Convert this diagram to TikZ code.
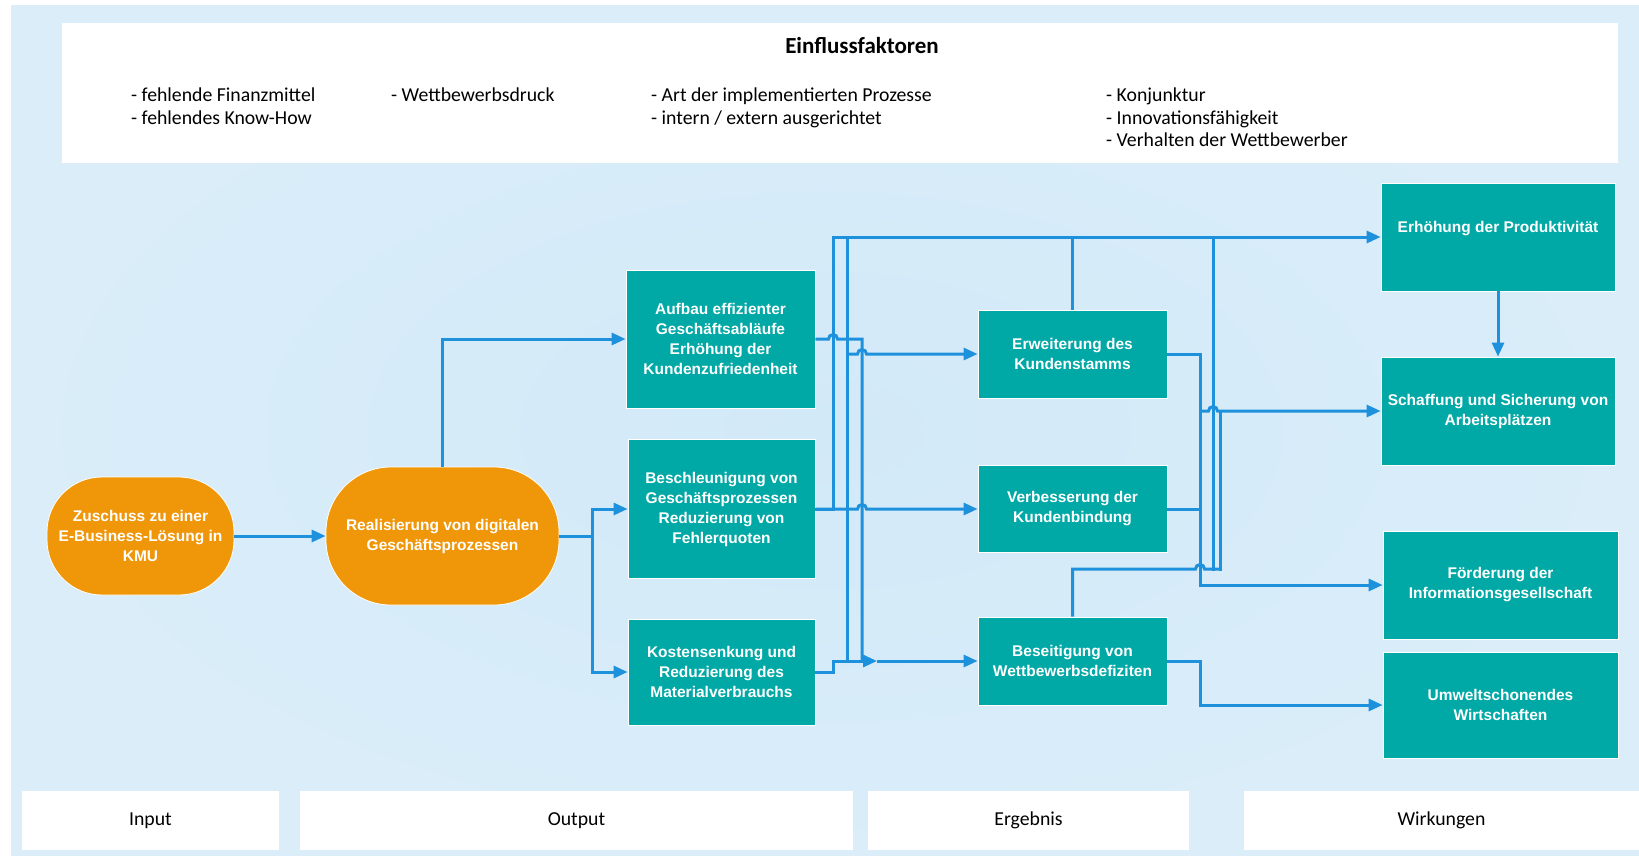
\documentclass[tikz,border=0pt]{standalone}
\usepackage{fontspec}
\setmainfont{Carlito}
\newfontfamily\boxfont{Liberation Sans}
\usetikzlibrary{arrows.meta}
\definecolor{bgblue}{RGB}{218,237,249}
\definecolor{bgblueinner}{RGB}{210,233,248}
\definecolor{boxteal}{RGB}{0,168,166}
\definecolor{inputorange}{RGB}{239,150,9}
\definecolor{linkblue}{RGB}{30,145,220}

\begin{document}
\begin{tikzpicture}[x=1pt,y=-1pt,>={Triangle[length=14pt,width=12pt]},
  link/.style={draw=linkblue,line width=3pt},
  tealbox/.style={rectangle,fill=boxteal,draw=white,line width=0.8pt,text=white,align=center,
    inner sep=0pt,font={\boxfont\fontsize{15.5}{20}\selectfont\bfseries}},
  stadium/.style={rectangle,rounded corners=#1,fill=inputorange,draw=white,line width=0.8pt,
    text=white,align=center,inner sep=0pt,font={\boxfont\fontsize{15.5}{20}\selectfont\bfseries}},
  panel/.style={rectangle,fill=white,inner sep=0pt,font={\fontsize{19.75}{22.5}\selectfont}},
  factor/.style={anchor=north west,align=left,inner sep=0pt,font={\fontsize{19.75}{22.5}\selectfont}}]

  \useasboundingbox (0,0) rectangle (1639,855);
  \shade[inner color=bgblueinner,outer color=bgblue] (11,5) rectangle (1639,855);

% define the panels
  \node[panel,minimum width=1556pt,minimum height=140pt] (factors) at (840,93) {};
  \node[font={\fontsize{23}{26}\selectfont\bfseries}] (title) at (862,46) {Einflussfaktoren};
  \node[factor] (fk1) at (131,88) {- fehlende Finanzmittel\\- fehlendes Know-How};
  \node[factor] (fk2) at (391,88) {- Wettbewerbsdruck};
  \node[factor] (fk3) at (651,88) {- Art der implementierten Prozesse\\- intern / extern ausgerichtet};
  \node[factor] (fk4) at (1106,88) {- Konjunktur\\- Innovationsfähigkeit\\- Verhalten der Wettbewerber};

  \node[panel,minimum width=257pt,minimum height=59pt] (input) at (150.5,820.5) {Input};
  \node[panel,minimum width=553pt,minimum height=59pt] (output) at (576.5,820.5) {Output};
  \node[panel,minimum width=321pt,minimum height=59pt] (ergebnis) at (1028.5,820.5) {Ergebnis};
  \node[panel,minimum width=395pt,minimum height=59pt] (wirkungen) at (1441.5,820.5) {Wirkungen};

% define the boxes
  \node[stadium=55pt,minimum width=187pt,minimum height=118pt] (zuschuss) at (140.5,536) {Zuschuss zu einer\\E-Business-Lösung in\\KMU};
  \node[stadium=65pt,minimum width=233pt,minimum height=138pt] (real) at (442.5,536) {Realisierung von digitalen\\Geschäftsprozessen};

  \node[tealbox,minimum width=189pt,minimum height=138pt] (aufbau) at (720.5,339) {Aufbau effizienter\\Geschäftsabläufe\\Erhöhung der\\Kundenzufriedenheit};
  \node[tealbox,minimum width=187pt,minimum height=139pt] (beschl) at (721.5,509) {Beschleunigung von\\Geschäftsprozessen\\Reduzierung von\\Fehlerquoten};
  \node[tealbox,minimum width=187pt,minimum height=106pt] (kosten) at (721.5,672) {Kostensenkung und\\Reduzierung des\\Materialverbrauchs};

  \node[tealbox,minimum width=189pt,minimum height=88pt] (erweit) at (1072.5,354) {Erweiterung des\\Kundenstamms};
  \node[tealbox,minimum width=189pt,minimum height=87pt] (verbess) at (1072.5,509) {Verbesserung der\\Kundenbindung};
  \node[tealbox,minimum width=189pt,minimum height=88pt] (beseit) at (1072.5,661) {Beseitigung von\\Wettbewerbsdefiziten};

  \node[tealbox,minimum width=234pt,minimum height=108pt] (prod) at (1498,237) {Erhöhung der Produktivität\\\mbox{}};
  \node[tealbox,minimum width=234pt,minimum height=108pt] (schaff) at (1498,411) {Schaffung und Sicherung von\\Arbeitsplätzen};
  \node[tealbox,minimum width=235pt,minimum height=108pt] (foerd) at (1500.5,585) {Förderung der\\Informationsgesellschaft};
  \node[tealbox,minimum width=235pt,minimum height=106pt] (umwelt) at (1500.5,705) {Umweltschonendes\\Wirtschaften};

% bus lines
  \coordinate (kfork) at (592,0);
  \coordinate (ka) at (833,0);
  \coordinate (kb) at (847,0);
  \coordinate (kc) at (862,0);
  \coordinate (kd) at (1200,0);
  \coordinate (ke) at (1213,0);
  \coordinate (kf) at (1220,0);
  \coordinate (kjoin) at (0,569);
  \coordinate (kmid) at (877,661);

% define the links
  \draw[link,->] (zuschuss) -- (real);
  \draw[link,->] (real.north) |- (aufbau.west);
  \draw[link] (real.east) -- (kfork |- real.east);
  \draw[link,->] (kfork |- real.east) |- (beschl.west);
  \draw[link,->] (kfork |- real.east) |- (kosten.west);

  \draw[link,->] (beschl.east) -| (ka |- prod.west) -- (prod.west);
  \draw[link,->] (beschl.east) -- ([xshift=-4.5pt]kc |- beschl.east)
      arc[start angle=180,end angle=0,radius=4.5pt] -- (verbess.west);
  \draw[link,line cap=rect] (kb |- prod.west) -- (kb |- beseit.west);
  \draw[link,->] (kb |- erweit.west) -- ([xshift=-4.5pt]kc |- erweit.west)
      arc[start angle=180,end angle=0,radius=4.5pt] -- (erweit.west);
  \draw[link] (aufbau.east) -- ([xshift=-4.5pt]ka |- aufbau.east)
      arc[start angle=180,end angle=0,radius=4.5pt] -| (kc |- beseit.west);
  \draw[link,->] (kosten.east) -| (ka |- beseit.west) -- (kmid);
  \draw[link,->] (kmid) -- (beseit.west);

  \draw[link] (erweit.north) -- (erweit.north |- prod.west);
  \draw[link,line cap=rect] (ke |- prod.west) -- (ke |- kjoin);
  \draw[link,->] (erweit.east) -| (kd |- foerd.west) -- (foerd.west);
  \draw[link] (verbess.east) -- (kd |- verbess.east);
  \draw[link,->] (kd |- schaff.west) -- ([xshift=-4.5pt]ke |- schaff.west)
      arc[start angle=180,end angle=0,radius=4.5pt] -- (schaff.west);
  \draw[link,line cap=rect] (kf |- schaff.west) -- (kf |- kjoin);
  \draw[link] (beseit.north) |- ([xshift=-4.5pt]kd |- kjoin)
      arc[start angle=180,end angle=0,radius=4.5pt] -- (kf |- kjoin);
  \draw[link,->] (beseit.east) -| (kd |- umwelt.west) -- (umwelt.west);
  \draw[link,->] (prod) -- (schaff);
\end{tikzpicture}
\end{document}
